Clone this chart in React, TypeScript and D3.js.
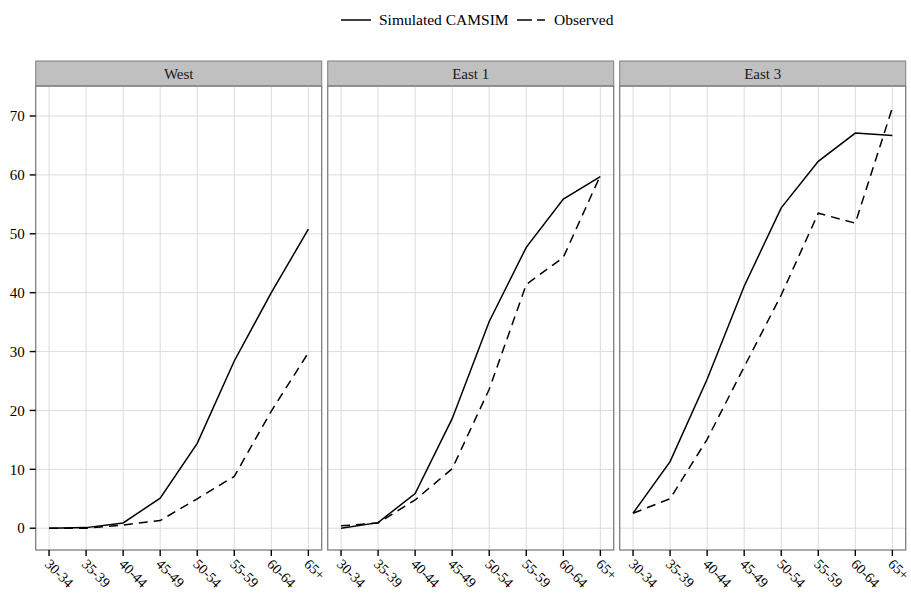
import React, { useEffect, useRef } from 'react';
import * as d3 from 'd3';

// age groups on the x axis, one panel per region
const ageGroups = ['30-34', '35-39', '40-44', '45-49', '50-54', '55-59', '60-64', '65+'];
const regions = ['West', 'East 1', 'East 3'];
const yTicks = [0, 10, 20, 30, 40, 50, 60, 70];

// values
const simWest = [0, 0.1, 0.9, 5.1, 14.4, 28.4, 40.0, 50.8];
const obsWest = [0, 0, 0.55, 1.3, 5.0, 8.8, 19.9, 29.8];
const simEast1 = [0, 0.95, 5.9, 18.6, 35.1, 47.7, 55.9, 59.7];
const obsEast1 = [0.4, 0.9, 4.8, 10.1, 23.6, 41.4, 46.0, 59.9];
const simEast3 = [2.55, 11.3, 25.3, 41.1, 54.4, 62.3, 67.1, 66.7];
const obsEast3 = [2.55, 5.0, 15.1, 27.4, 39.6, 53.5, 51.8, 71.4];

const seriesNames = ['Simulated CAMSIM', 'Observed'];

const W = 911;
const H = 593;
const FONT = '"Liberation Serif", "Times New Roman", serif';

export default function App() {
  const ref = useRef<SVGSVGElement>(null);

  useEffect(() => {
    const svg = d3.select(ref.current);
    svg.selectAll('*').remove();

    const panelLeft = 35.7;
    const panelW = 286;
    const gap = 6;
    const stripTop = 61;
    const panelTop = 86;
    const panelBottom = 550;

    const x = d3.scalePoint<string>().domain(ageGroups).range([0, panelW]).padding(0.36);
    const y = d3.scaleLinear().domain([-3.7, 75.1]).range([panelBottom, panelTop]);

    const line = d3.line<number>()
      .x((d, i) => x(ageGroups[i]) as number)
      .y(d => y(d));

    const data = [
      [simWest, obsWest],
      [simEast1, obsEast1],
      [simEast3, obsEast3],
    ];

    svg.append('rect').attr('width', W).attr('height', H).attr('fill', '#fff');

    // legend
    const legend = svg.append('g');
    const legendItems = [
      { x0: 341, x1: 371, tx: 379, dash: null },
      { x0: 517, x1: 545, tx: 554, dash: '15,5' },
    ];
    legendItems.forEach((it, i) => {
      legend.append('line')
        .attr('x1', it.x0).attr('x2', it.x1).attr('y1', 20).attr('y2', 20)
        .attr('stroke', '#000').attr('stroke-width', 1.5)
        .attr('stroke-dasharray', it.dash);
      legend.append('text')
        .attr('x', it.tx).attr('y', 20).attr('dy', '0.35em')
        .attr('font-family', FONT).attr('font-size', 15.5).attr('fill', '#000')
        .text(seriesNames[i]);
    });

    regions.forEach((region, p) => {
      const g = svg.append('g').attr('transform', `translate(${panelLeft + p * (panelW + gap)},0)`);

      // strip
      g.append('rect')
        .attr('x', 0).attr('y', stripTop).attr('width', panelW).attr('height', panelTop - stripTop)
        .attr('fill', '#c0c0c0').attr('stroke', '#7f7f7f').attr('stroke-width', 1);
      g.append('text')
        .attr('x', panelW / 2).attr('y', (stripTop + panelTop) / 2).attr('dy', '0.35em')
        .attr('text-anchor', 'middle')
        .attr('font-family', FONT).attr('font-size', 15).attr('fill', '#1a1a1a')
        .text(region);

      // grid
      g.selectAll('.hgrid').data(yTicks).enter().append('line')
        .attr('x1', 0).attr('x2', panelW)
        .attr('y1', d => y(d)).attr('y2', d => y(d))
        .attr('stroke', '#dcdcdc').attr('stroke-width', 1);
      g.selectAll('.vgrid').data(ageGroups).enter().append('line')
        .attr('x1', d => x(d) as number).attr('x2', d => x(d) as number)
        .attr('y1', panelTop).attr('y2', panelBottom)
        .attr('stroke', '#dcdcdc').attr('stroke-width', 1);

      // series
      data[p].forEach((vals, s) => {
        g.append('path')
          .attr('d', line(vals))
          .attr('fill', 'none').attr('stroke', '#000').attr('stroke-width', 1.5)
          .attr('stroke-dasharray', s === 1 ? '9,6' : null);
      });

      // border
      g.append('rect')
        .attr('x', 0).attr('y', panelTop).attr('width', panelW).attr('height', panelBottom - panelTop)
        .attr('fill', 'none').attr('stroke', '#7f7f7f').attr('stroke-width', 1.3);

      // x axis
      const xa = g.append('g');
      ageGroups.forEach(a => {
        const px = x(a) as number;
        xa.append('line')
          .attr('x1', px).attr('x2', px).attr('y1', panelBottom).attr('y2', panelBottom + 6)
          .attr('stroke', '#000').attr('stroke-width', 1.4);
        xa.append('text')
          .attr('transform', `translate(${px - 5},${panelBottom + 15}) rotate(45)`)
          .attr('font-family', FONT).attr('font-size', 14.2).attr('fill', '#000')
          .text(a);
      });
    });

    // y axis
    const ya = svg.append('g');
    yTicks.forEach(t => {
      ya.append('line')
        .attr('x1', panelLeft - 6).attr('x2', panelLeft).attr('y1', y(t)).attr('y2', y(t))
        .attr('stroke', '#000').attr('stroke-width', 1.4);
      ya.append('text')
        .attr('x', panelLeft - 11).attr('y', y(t)).attr('dy', '0.35em')
        .attr('text-anchor', 'end')
        .attr('font-family', FONT).attr('font-size', 15).attr('fill', '#000')
        .text(t);
    });
  }, []);

  return (
    <svg ref={ref} width={W} height={H} style={{ position: 'absolute', left: 0, top: 0 }} />
  );
}
